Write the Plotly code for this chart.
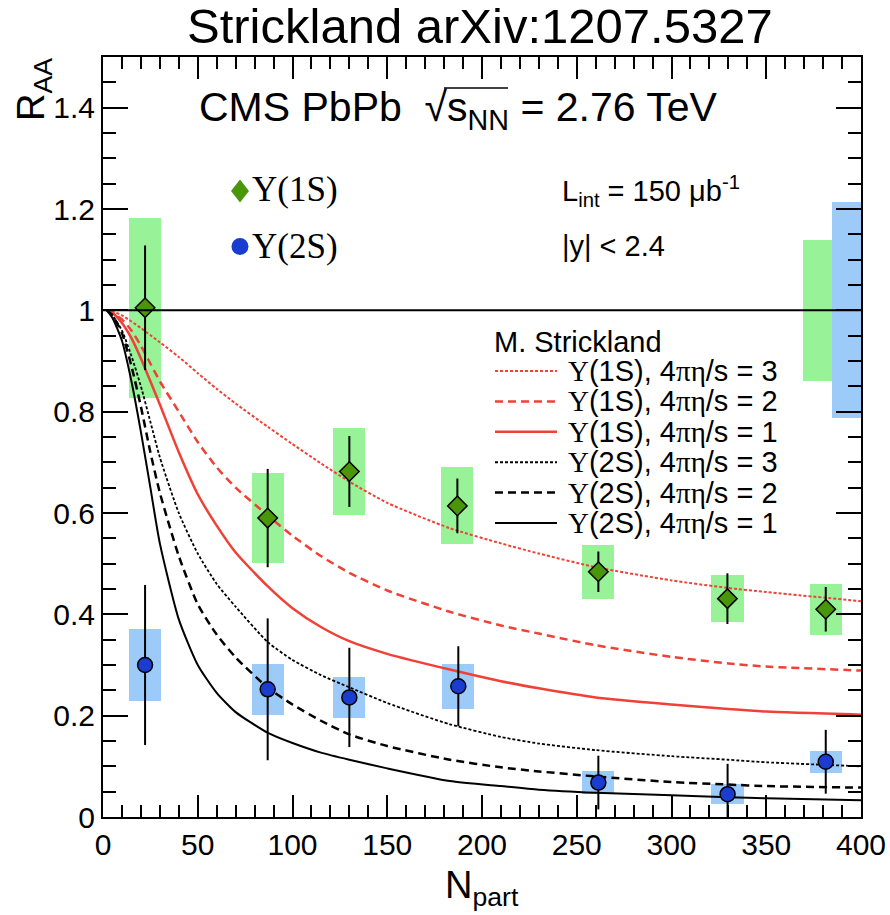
import plotly.graph_objects as go

# ---------------- data ----------------
npart_1s = [22.2, 86.9, 130.0, 187.0, 261.4, 329.5, 381.4]
raa_1s = [1.005, 0.590, 0.682, 0.614, 0.484, 0.431, 0.410]
stat_1s = [0.123, 0.097, 0.070, 0.054, 0.040, 0.050, 0.044]
syst_1s = [0.178, 0.088, 0.086, 0.076, 0.053, 0.047, 0.050]

npart_2s = [22.2, 86.9, 130.0, 187.5, 261.4, 329.6, 381.4]
raa_2s = [0.300, 0.252, 0.236, 0.258, 0.068, 0.045, 0.109]
stat_2s = [0.158, 0.140, 0.098, 0.079, 0.053, 0.060, 0.063]
syst_2s = [0.072, 0.050, 0.040, 0.044, 0.022, 0.020, 0.022]

global_npart = [377.0, 392.5]
global_unc = [0.139, 0.213]
unity = 1.0

curve_npart = [2, 5, 10, 15, 20, 25, 30, 40, 50, 60, 70, 87, 100, 115, 130,
               150, 183, 210, 230, 260, 300, 330, 350, 400]
th_1s_eta3 = [1.0, 0.998, 0.99, 0.978, 0.965, 0.951, 0.937, 0.908, 0.876, 0.845,
              0.816, 0.770, 0.736, 0.698, 0.662, 0.620, 0.570, 0.540, 0.520,
              0.493, 0.467, 0.452, 0.444, 0.426]
th_1s_eta2 = [1.0, 0.996, 0.982, 0.96, 0.93, 0.895, 0.86, 0.80, 0.74, 0.69,
              0.65, 0.595, 0.555, 0.515, 0.482, 0.447, 0.405, 0.378, 0.362,
              0.339, 0.316, 0.303, 0.297, 0.289]
th_1s_eta1 = [1.0, 0.995, 0.975, 0.945, 0.905, 0.86, 0.814, 0.72, 0.637, 0.575,
              0.522, 0.455, 0.412, 0.375, 0.347, 0.322, 0.291, 0.268, 0.254,
              0.236, 0.222, 0.213, 0.208, 0.202]
th_2s_eta3 = [1.0, 0.99, 0.96, 0.91, 0.85, 0.78, 0.71, 0.60, 0.52, 0.46,
              0.415, 0.345, 0.31, 0.28, 0.256, 0.225, 0.183, 0.158, 0.145,
              0.132, 0.12, 0.113, 0.108, 0.10]
th_2s_eta2 = [1.0, 0.99, 0.955, 0.89, 0.81, 0.72, 0.64, 0.515, 0.42, 0.36,
              0.315, 0.255, 0.222, 0.19, 0.163, 0.14, 0.113, 0.098, 0.09,
              0.08, 0.069, 0.064, 0.061, 0.058]
th_2s_eta1 = [1.0, 0.985, 0.94, 0.86, 0.76, 0.65, 0.54, 0.39, 0.30, 0.245,
              0.207, 0.166, 0.146, 0.127, 0.113, 0.096, 0.071, 0.061, 0.054,
              0.048, 0.043, 0.039, 0.037, 0.033]

x_ticks_dtick = 50
y_ticks_dtick = 0.2

# ---------------- style ----------------
W, H = 890, 915
L, R, T, B = 103, 861, 57, 817
SANS = "Liberation Sans, Arial, sans-serif"
SERIF = "Liberation Serif, DejaVu Serif, serif"
RED = "#ef4136"
GREEN_BOX = "#98f298"
BLUE_BOX = "#9ccbf9"
GREEN_MK = "#4a960a"
BLUE_MK = "#1a3dd0"
BOXW = 17


def PX(x):
    return (x - L) / (R - L)


def PY(y):
    return (B - y) / (B - T)


def gr(s):
    return "<span style='font-family:Liberation Serif'>%s</span>" % s


fig = go.Figure()

# systematic boxes
fig.add_trace(go.Bar(x=npart_1s, y=[2 * s for s in syst_1s],
                     base=[v - s for v, s in zip(raa_1s, syst_1s)],
                     width=BOXW, marker=dict(color=GREEN_BOX, line=dict(width=0)),
                     showlegend=False, hoverinfo="skip"))
fig.add_trace(go.Bar(x=npart_2s, y=[2 * s for s in syst_2s],
                     base=[v - s for v, s in zip(raa_2s, syst_2s)],
                     width=BOXW, marker=dict(color=BLUE_BOX, line=dict(width=0)),
                     showlegend=False, hoverinfo="skip"))
# global uncertainty boxes
fig.add_trace(go.Bar(x=global_npart, y=[2 * u for u in global_unc],
                     base=[unity - u for u in global_unc],
                     width=15.5, marker=dict(color=[GREEN_BOX, BLUE_BOX], line=dict(width=0)),
                     showlegend=False, hoverinfo="skip"))

# theory curves
curves = [
    (th_1s_eta3, RED, "3px,2px", 2),
    (th_1s_eta2, RED, "8px,5px", 2.5),
    (th_1s_eta1, RED, "solid", 2.5),
    (th_2s_eta3, "black", "3px,2px", 1.8),
    (th_2s_eta2, "black", "8px,5px", 2.5),
    (th_2s_eta1, "black", "solid", 2),
]
for ys, col, dash, w in curves:
    fig.add_trace(go.Scatter(x=curve_npart, y=ys, mode="lines",
                             line=dict(color=col, dash=dash, width=w, shape="spline", smoothing=0.6),
                             showlegend=False, hoverinfo="skip"))

# data points
fig.add_trace(go.Scatter(x=npart_1s, y=raa_1s, mode="markers",
                         marker=dict(symbol="diamond", size=15, color=GREEN_MK,
                                     line=dict(color="black", width=1.5)),
                         error_y=dict(type="data", array=stat_1s, color="black",
                                      thickness=2, width=0),
                         showlegend=False))
fig.add_trace(go.Scatter(x=npart_2s, y=raa_2s, mode="markers",
                         marker=dict(symbol="circle", size=15, color=BLUE_MK,
                                     line=dict(color="black", width=1.5)),
                         error_y=dict(type="data", array=stat_2s, color="black",
                                      thickness=2, width=0),
                         showlegend=False))

ann = []


def add_text(text, xp, yp, size, xanchor="left", yanchor="middle", family=SANS,
             color="black", angle=0):
    ann.append(dict(text=text, x=PX(xp), y=PY(yp), xref="paper", yref="paper",
                    xanchor=xanchor, yanchor=yanchor, showarrow=False,
                    textangle=angle, font=dict(size=size, family=family, color=color)))


add_text("Strickland arXiv:1207.5327", 480, 26, 49, xanchor="center")
add_text("R<sub>AA</sub>", 34, 90, 38, xanchor="center", angle=-90)
add_text("N<sub>part</sub>", 482, 888, 38, xanchor="center")
add_text("CMS PbPb\u00a0\u00a0√s<sub>NN</sub> = 2.76 TeV", 197, 110, 41)
add_text("L<sub>int</sub> = 150 μb<sup>-1</sup>", 560, 191, 29)
add_text("|y| < 2.4", 560, 246, 29)
add_text("Υ(1S)", 250, 189, 35, family=SERIF)
add_text("Υ(2S)", 250, 246, 35, family=SERIF)
add_text("M. Strickland", 492, 342, 29)

labels = [
    gr("Υ") + "(1S), 4" + gr("πη") + "/s = 3",
    gr("Υ") + "(1S), 4" + gr("πη") + "/s = 2",
    gr("Υ") + "(1S), 4" + gr("πη") + "/s = 1",
    gr("Υ") + "(2S), 4" + gr("πη") + "/s = 3",
    gr("Υ") + "(2S), 4" + gr("πη") + "/s = 2",
    gr("Υ") + "(2S), 4" + gr("πη") + "/s = 1",
]

shapes = []
# reference line R_AA = 1
shapes.append(dict(type="line", xref="paper", yref="y", x0=0, x1=1,
                   y0=unity, y1=unity, layer="above",
                   line=dict(color="black", width=2)))
for i, (lab, (ys, col, dash, w)) in enumerate(zip(labels, curves)):
    yc = 371 + 30.4 * i
    add_text(lab, 566, yc, 29)
    shapes.append(dict(type="line", xref="paper", yref="paper",
                       x0=PX(495), x1=PX(557), y0=PY(yc), y1=PY(yc),
                       line=dict(color=col, dash=dash, width=max(w, 2))))
# overline of the square root
shapes.append(dict(type="line", xref="paper", yref="paper",
                   x0=PX(444), x1=PX(508), y0=PY(88), y1=PY(88),
                   line=dict(color="black", width=1.5)))
# legend symbols for the data (diamond and circle)
dx, dy = PX(249) - PX(240), PY(178.5) - PY(190)
cx, cy = PX(240), PY(191)
shapes.append(dict(type="path", xref="paper", yref="paper",
                   path="M %f,%f L %f,%f L %f,%f L %f,%f Z" % (
                       cx, cy + dy, cx + dx, cy, cx, cy - dy, cx - dx, cy),
                   fillcolor=GREEN_MK, line=dict(width=0)))
shapes.append(dict(type="circle", xref="paper", yref="paper",
                   x0=PX(231.5), x1=PX(248.5), y0=PY(238), y1=PY(255),
                   fillcolor=BLUE_MK, line=dict(width=0)))

axis_common = dict(showgrid=False, zeroline=False, showline=True, linecolor="black",
                   linewidth=2, mirror="ticks", ticks="inside", tickcolor="black",
                   tickwidth=2, automargin=False,
                   tickfont=dict(family=SANS, size=30, color="black"))

fig.update_layout(
    width=W, height=H,
    margin=dict(l=L, r=W - R, t=T, b=H - B),
    paper_bgcolor="white", plot_bgcolor="white",
    barmode="overlay", bargap=0,
    showlegend=False,
    annotations=ann, shapes=shapes,
    xaxis=dict(range=[0, 400], tick0=0, dtick=x_ticks_dtick, ticklen=22,
               minor=dict(dtick=10, ticklen=12, ticks="inside", tickcolor="black", tickwidth=1.5),
               **axis_common),
    yaxis=dict(range=[0, 1.5], tick0=0, dtick=y_ticks_dtick, ticklen=25,
               minor=dict(dtick=0.05, ticklen=13, ticks="inside", tickcolor="black", tickwidth=1.5),
               **axis_common),
)

fig.write_html("out.html")
